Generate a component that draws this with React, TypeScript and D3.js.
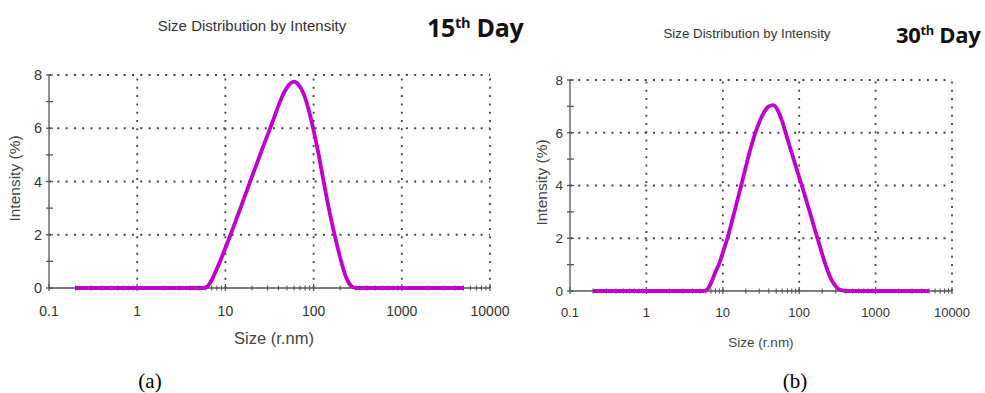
import React from "react";
import * as d3 from "d3";

const sizes = [0.2, 0.5, 1, 2, 4, 5.6, 6.2, 7, 8, 9, 10, 11.5, 13.2, 15, 17.4, 20, 23, 26.5, 30.5, 35, 40, 46, 53, 60, 68, 77, 87, 98, 112, 128, 150, 175, 200, 225, 250, 280, 320, 370, 420, 1000, 5000];
const day15 = [0, 0, 0, 0, 0, 0, 0.05, 0.3, 0.72, 1.12, 1.5, 2.02, 2.55, 3.05, 3.63, 4.18, 4.72, 5.27, 5.8, 6.32, 6.85, 7.33, 7.64, 7.75, 7.62, 7.3, 6.75, 6.05, 5.15, 4.12, 2.93, 1.93, 1.15, 0.55, 0.2, 0.03, 0, 0, 0, 0, 0];
const day30 = [0, 0, 0, 0, 0, 0, 0.05, 0.3, 0.72, 1.05, 1.45, 2.0, 2.65, 3.27, 4.0, 4.7, 5.38, 5.98, 6.45, 6.8, 7.0, 7.05, 6.82, 6.42, 5.9, 5.38, 4.88, 4.4, 3.86, 3.3, 2.62, 1.96, 1.4, 0.93, 0.58, 0.3, 0.1, 0.02, 0, 0, 0];

const xTicks = [0.1, 1, 10, 100, 1000, 10000];
const xTickLabels = ["0.1", "1", "10", "100", "1000", "10000"];
const yTicks = [0, 2, 4, 6, 8];
const yMinor = [1, 3, 5, 7];

const title = "Size Distribution by Intensity";
const xTitle = "Size (r.nm)";
const yTitle = "Intensity (%)";

const minorX: number[] = [];
for (let d = 0.1; d < 10000; d *= 10) {
  for (let k = 2; k <= 9; k++) minorX.push(+(d * k).toPrecision(3));
}

const font = "Liberation Sans, Arial, sans-serif";
const grey = "#555";

type PanelProps = {
  x0: number; x1: number; y0: number; y1: number;
  values: number[];
  titleX: number; titleY: number; titleSize: number;
  dayNum: string; dayX: number; dayY: number; daySize: number;
  tickSize: number; labelSize: number; xLabelSize: number;
  yTitleX: number; xTitleX: number; xTitleY: number; tickY: number;
};

const Panel = (p: PanelProps) => {
  const x = d3.scaleLog().domain([0.1, 10000]).range([p.x0, p.x1]);
  const y = d3.scaleLinear().domain([0, 8]).range([p.y0, p.y1]);
  const line = d3
    .line<number>()
    .x((d, i) => x(sizes[i]))
    .y((d) => y(d))
    .curve(d3.curveMonotoneX);
  const dots = "2,6.3";
  return (
    <g>
      <text x={p.titleX} y={p.titleY} textAnchor="middle" fontSize={p.titleSize} fontFamily={font} fill="#333">
        {title}
      </text>
      <text x={p.dayX} y={p.dayY} fontSize={p.daySize} fontWeight="bold" fontFamily="Open Sans, Liberation Sans, sans-serif" fill="#111" letterSpacing="-0.3">
        {p.dayNum}
        <tspan fontSize={p.daySize * 0.58} dy={-p.daySize * 0.38}>th</tspan>
        <tspan dy={p.daySize * 0.38}> Day</tspan>
      </text>
      {/* grid */}
      {xTicks.slice(1).map((t) => (
        <line key={"gx" + t} x1={x(t)} x2={x(t)} y1={y(0)} y2={y(8)} stroke="#444" strokeWidth={1.8} strokeDasharray={dots} />
      ))}
      {yTicks.slice(1).map((t) => (
        <line key={"gy" + t} x1={x(0.1)} x2={x(10000)} y1={y(t)} y2={y(t)} stroke="#444" strokeWidth={1.8} strokeDasharray={dots} />
      ))}
      {/* axes */}
      <line x1={x(0.1)} x2={x(0.1)} y1={y(0)} y2={y(8)} stroke={grey} strokeWidth={1.3} />
      <line x1={x(0.1)} x2={x(10000)} y1={y(0)} y2={y(0)} stroke={grey} strokeWidth={1.3} />
      {yTicks.map((t) => (
        <g key={"yt" + t}>
          <line x1={x(0.1) - 3} x2={x(0.1) + 4} y1={y(t)} y2={y(t)} stroke={grey} strokeWidth={1.3} />
          <text x={x(0.1) - 7} y={y(t) + p.labelSize * 0.36} textAnchor="end" fontSize={p.labelSize} fontFamily={font} fill="#333">{t}</text>
        </g>
      ))}
      {yMinor.map((t) => (
        <line key={"ym" + t} x1={x(0.1) - 3} x2={x(0.1) + 4} y1={y(t)} y2={y(t)} stroke={grey} strokeWidth={1.3} />
      ))}
      {minorX.map((t) => (
        <line key={"xm" + t} x1={x(t)} x2={x(t)} y1={y(0) - 2.5} y2={y(0) + 2.5} stroke={grey} strokeWidth={1.1} />
      ))}
      {xTicks.map((t, i) => (
        <g key={"xt" + t}>
          <line x1={x(t)} x2={x(t)} y1={y(0) - 4} y2={y(0) + 3} stroke={grey} strokeWidth={1.3} />
          <text x={x(t)} y={p.tickY} textAnchor="middle" fontSize={p.tickSize} fontFamily={font} fill="#333">{xTickLabels[i]}</text>
        </g>
      ))}
      <text x={p.xTitleX} y={p.xTitleY} textAnchor="middle" fontSize={p.xLabelSize} fontFamily={font} fill="#444">{xTitle}</text>
      <text transform={`translate(${p.yTitleX},${(y(0) + y(8)) / 2 - 3}) rotate(-90)`} textAnchor="middle" fontSize={15.5} fontFamily={font} fill="#444">{yTitle}</text>
      <path d={line(p.values) || ""} fill="none" stroke="#c000cc" strokeWidth={3.8} strokeLinejoin="round" />
    </g>
  );
};

const App = () => {
  return (
    <div style={{ position: "absolute", left: 0, top: 0 }}>
      <svg width={985} height={393} style={{ display: "block", background: "#fff" }}>
        <Panel x0={49} x1={490} y0={288} y1={75} values={day15}
          titleX={252} titleY={31} titleSize={15}
          dayNum="15" dayX={427} dayY={37} daySize={25}
          tickSize={14} labelSize={14.5} xLabelSize={16.5}
          yTitleX={20} xTitleX={274} xTitleY={344} tickY={316} />
        <Panel x0={570} x1={952} y0={291} y1={80} values={day30}
          titleX={747} titleY={38} titleSize={13.3}
          dayNum="30" dayX={896} dayY={43} daySize={22}
          tickSize={13} labelSize={13.5} xLabelSize={13.5}
          yTitleX={547} xTitleX={761} xTitleY={347} tickY={317} />
        <text x={150} y={388} textAnchor="middle" fontSize={21} fontFamily="Liberation Serif, Times New Roman, serif">(a)</text>
        <text x={795} y={388} textAnchor="middle" fontSize={21} fontFamily="Liberation Serif, Times New Roman, serif">(b)</text>
      </svg>
    </div>
  );
};

export default App;
